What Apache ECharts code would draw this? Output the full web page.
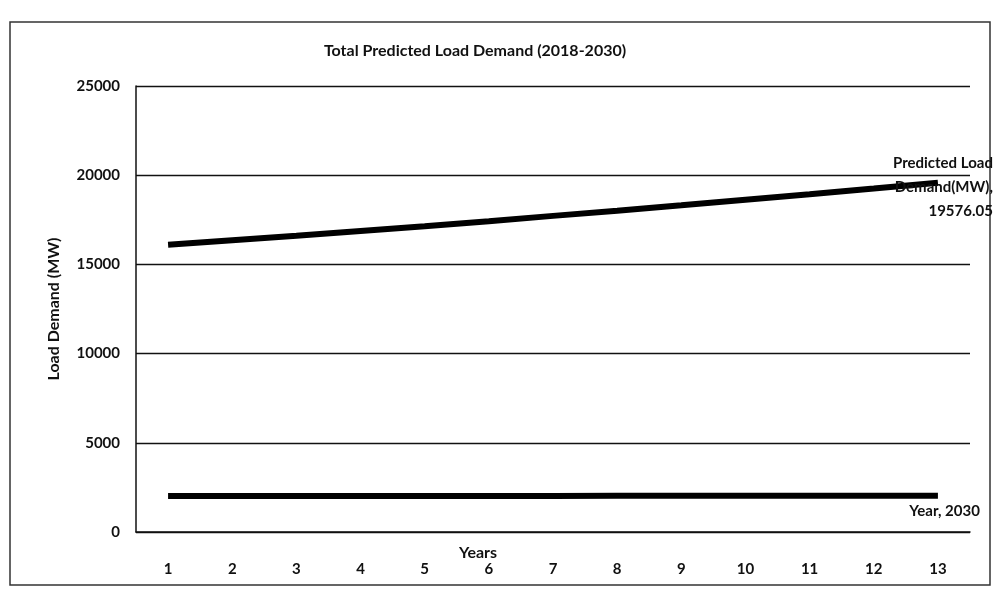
<!DOCTYPE html>
<html lang="en">
<head>
<meta charset="utf-8">
<title>Total Predicted Load Demand (2018-2030)</title>
<script src="https://cdn.jsdelivr.net/npm/echarts@6/dist/echarts.min.js"></script>
<style>
	html, body { margin: 0; padding: 0; background: #fff; }
	#chart { width: 998px; height: 600px; }
</style>
</head>
<body>
<div id="chart"></div>
<script>
// categories (year index 1..13 = 2018..2030)
var categories = ['1', '2', '3', '4', '5', '6', '7', '8', '9', '10', '11', '12', '13'];
// predicted load demand, MW (last value labelled)
var loadDemand = [16100, 16350, 16600, 16870, 17140, 17420, 17720, 18010, 18310, 18620, 18930, 19250, 19576.05];
// year series plotted on the same axis
var years = [2018, 2019, 2020, 2021, 2022, 2023, 2024, 2025, 2026, 2027, 2028, 2029, 2030];
var yTicks = [0, 5000, 10000, 15000, 20000, 25000];

var font = 'Lato, "Open Sans", sans-serif';
var chart = echarts.init(document.getElementById('chart'));

var option = {
	backgroundColor: '#fff',
	animation: false,
	title: {
		text: 'Total Predicted Load Demand (2018-2030)',
		left: 470,
		top: 38,
		textAlign: 'center',
		textStyle: { fontFamily: font, fontSize: 16, fontWeight: 'bold', color: '#111' }
	},
	graphic: [{
		type: 'rect',
		shape: { x: 10, y: 22, width: 980, height: 563 },
		style: { fill: 'none', stroke: '#333', lineWidth: 1.5 },
		silent: true
	}],
	grid: { left: 136, right: 28, top: 86, bottom: 68 },
	xAxis: {
		type: 'category',
		data: categories,
		name: 'Years',
		nameLocation: 'middle',
		nameGap: 13,
		nameMoveOverlap: false,
		// name sits left of centre in the original
		nameTextStyle: { fontFamily: font, fontSize: 16, fontWeight: 'bold', color: '#111', padding: [0, 150, 0, 0] },
		axisLine: { show: true, lineStyle: { color: '#111', width: 1.5 } },
		axisTick: { show: false },
		axisLabel: { margin: 30, fontFamily: font, fontSize: 15, fontWeight: 'bold', color: '#111' }
	},
	yAxis: {
		type: 'value',
		min: yTicks[0],
		max: yTicks[yTicks.length - 1],
		interval: yTicks[1] - yTicks[0],
		name: 'Load Demand (MW)',
		nameLocation: 'middle',
		nameGap: 74,
		nameTextStyle: { fontFamily: font, fontSize: 16, fontWeight: 'bold', color: '#111' },
		axisLine: { show: true, lineStyle: { color: '#111', width: 1.5 } },
		axisTick: { show: false },
		axisLabel: {
			margin: 16, fontFamily: font, fontSize: 15, fontWeight: 'bold', color: '#111',
			formatter: function (v) { return String(v); }
		},
		splitLine: { show: true, lineStyle: { color: '#111', width: 1.3 } }
	},
	series: [{
		name: 'Predicted Load Demand(MW)',
		type: 'line',
		data: loadDemand,
		symbol: 'none',
		lineStyle: { color: '#000', width: 6 },
		endLabel: {
			show: true,
			formatter: function (p) { return 'Predicted Load\nDemand(MW),\n' + p.value; },
			align: 'right',
			offset: [47, 4],
			lineHeight: 24,
			fontFamily: font,
			fontSize: 15,
			fontWeight: 'bold',
			color: '#111'
		}
	}, {
		name: 'Year',
		type: 'line',
		data: years,
		symbol: 'none',
		lineStyle: { color: '#000', width: 6 },
		endLabel: {
			show: true,
			formatter: function (p) { return 'Year, ' + p.value; },
			align: 'right',
			offset: [34, 15],
			fontFamily: font,
			fontSize: 15,
			fontWeight: 'bold',
			color: '#111'
		}
	}]
};
chart.setOption(option);
</script>
</body>
</html>
